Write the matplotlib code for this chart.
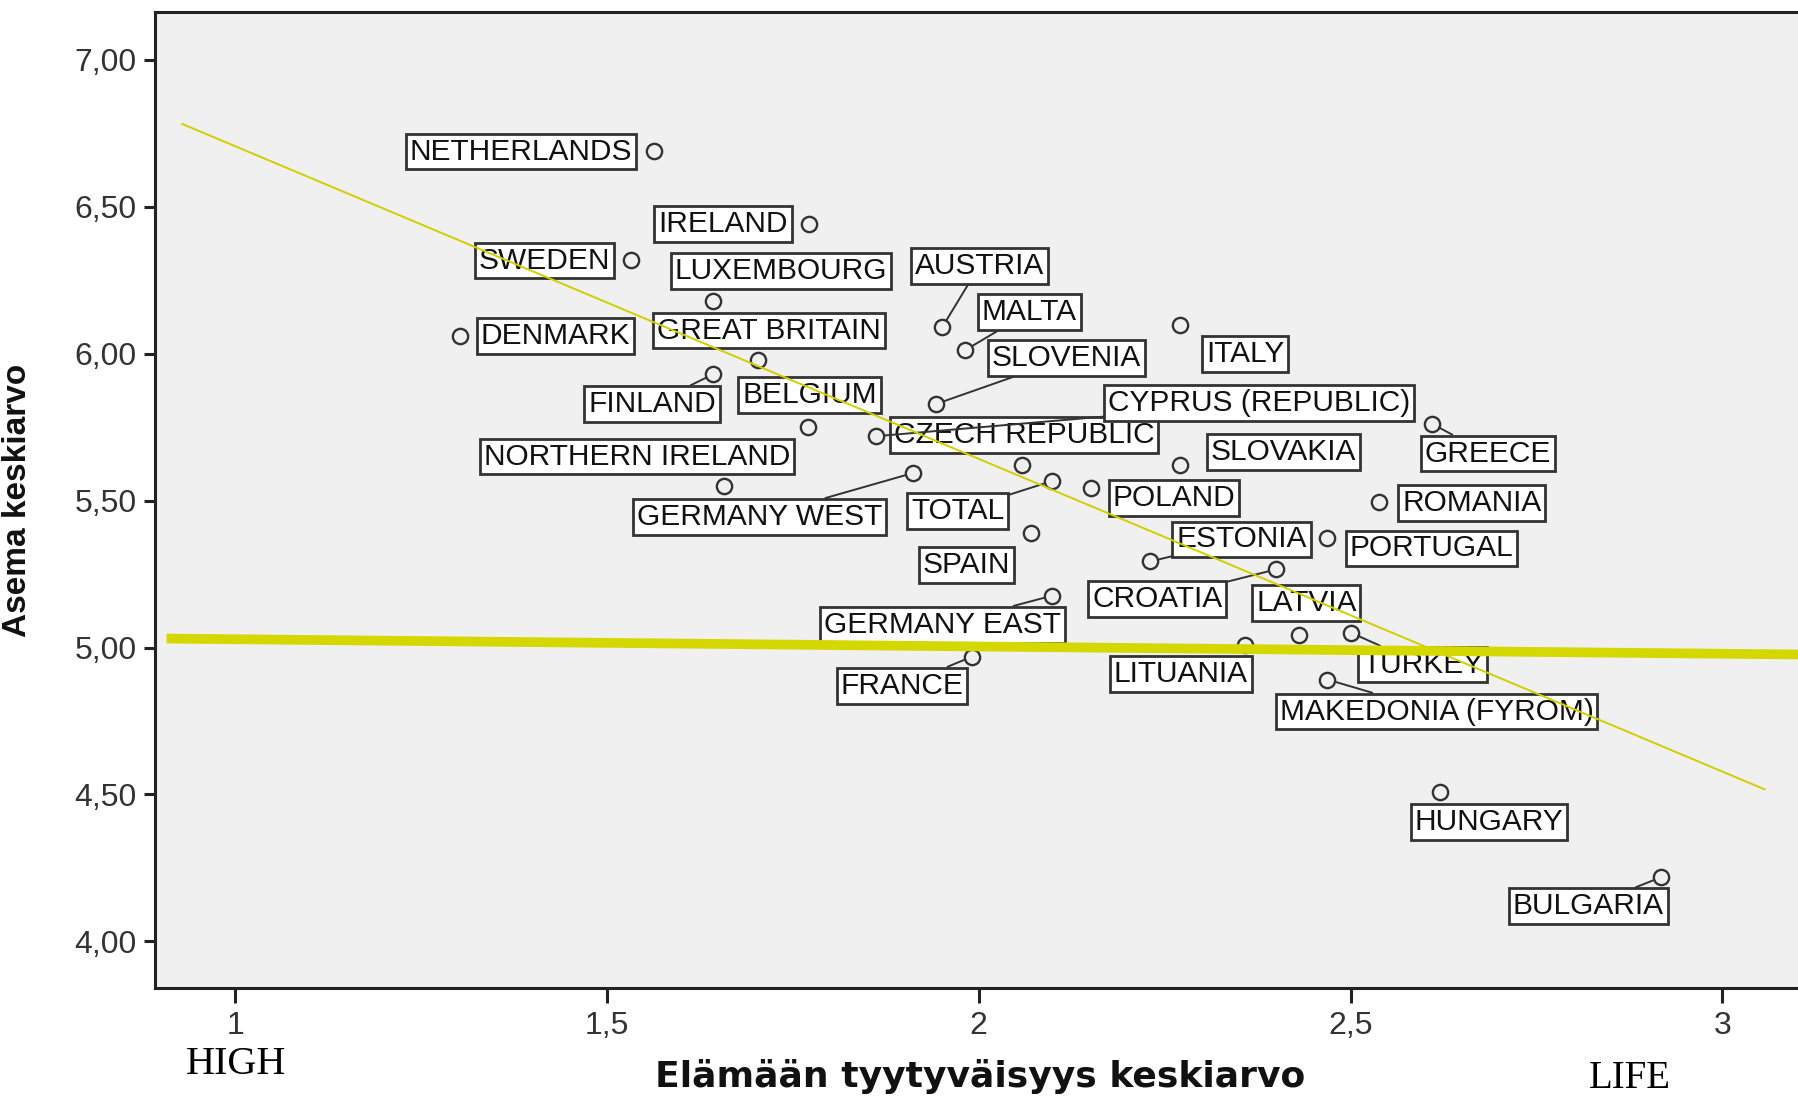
import numpy as np
import matplotlib
matplotlib.use("Agg")
import matplotlib.pyplot as plt

# ---------------------------------------------------------------------------
# data
countries = [
    "NETHERLANDS", "IRELAND", "SWEDEN", "LUXEMBOURG", "AUSTRIA", "MALTA",
    "DENMARK", "GREAT BRITAIN", "ITALY", "SLOVENIA", "FINLAND", "BELGIUM",
    "CZECH REPUBLIC", "CYPRUS (REPUBLIC)", "NORTHERN IRELAND", "GERMANY WEST",
    "TOTAL", "SPAIN", "GREECE", "SLOVAKIA", "POLAND", "ROMANIA", "PORTUGAL",
    "ESTONIA", "CROATIA", "LATVIA", "GERMANY EAST", "LITUANIA", "TURKEY",
    "FRANCE", "MAKEDONIA (FYROM)", "HUNGARY", "BULGARIA",
]
life_sat = [
    1.563, 1.772, 1.532, 1.643, 1.951, 1.982,
    1.302, 1.703, 2.271, 1.942, 1.643, 1.771,
    2.058, 1.862, 1.658, 1.912,
    2.098, 2.071, 2.609, 2.271, 2.151, 2.538, 2.469,
    2.231, 2.400, 2.431, 2.098, 2.358, 2.500,
    1.991, 2.469, 2.620, 2.918,
]
status = [
    6.691, 6.441, 6.320, 6.180, 6.090, 6.012,
    6.059, 5.980, 6.098, 5.828, 5.930, 5.750,
    5.621, 5.719, 5.551, 5.594,
    5.566, 5.391, 5.762, 5.621, 5.543, 5.496, 5.371,
    5.293, 5.266, 5.043, 5.176, 5.008, 5.051,
    4.969, 4.891, 4.508, 4.219,
]
# fit lines (slope, intercept)
fit_total = (-1.064, 7.770)
fit_flat = (-0.0247, 5.053)
fit_total_range = (0.929, 3.057)

# ---------------------------------------------------------------------------
# label placement (offset of the label box from its point, pixels)
label_offset = {
    "NETHERLANDS": (-133, -1), "IRELAND": (-86, 0), "SWEDEN": (-86, -1),
    "LUXEMBOURG": (68, 30), "AUSTRIA": (37, 61), "MALTA": (64, 38),
    "DENMARK": (96, 0), "GREAT BRITAIN": (11, 29), "ITALY": (65, -29),
    "SLOVENIA": (131, 46), "FINLAND": (-61, -30), "BELGIUM": (1, 32),
    "CZECH REPUBLIC": (2, 30), "CYPRUS (REPUBLIC)": (383, 33),
    "NORTHERN IRELAND": (-87, 29), "GERMANY WEST": (-154, -44),
    "TOTAL": (-94, -30), "SPAIN": (-65, -32), "GREECE": (56, -30),
    "SLOVAKIA": (103, 13), "POLAND": (83, -10), "ROMANIA": (93, -1),
    "PORTUGAL": (104, -10), "ESTONIA": (91, 22), "CROATIA": (-119, -30),
    "LATVIA": (7, 32), "GERMANY EAST": (-109, -29), "LITUANIA": (-64, -29),
    "TURKEY": (72, -32), "FRANCE": (-70, -29), "MAKEDONIA (FYROM)": (109, -32),
    "HUNGARY": (49, -30), "BULGARIA": (-73, -29),
}
with_leader = {
    "AUSTRIA", "MALTA", "SLOVENIA", "FINLAND", "CYPRUS (REPUBLIC)",
    "GERMANY WEST", "TOTAL", "GREECE", "ESTONIA", "CROATIA", "GERMANY EAST",
    "TURKEY", "FRANCE", "MAKEDONIA (FYROM)", "BULGARIA",
}

plt.rcParams["font.family"] = ["Liberation Sans", "DejaVu Sans"]

fig = plt.figure(figsize=(17.98, 10.96), dpi=100)
ax = fig.add_axes([0.0862, 0.0981, 0.9138, 0.8914])
ax.set_facecolor("#f0f0f0")

ax.set_xlim(0.8924, 3.1017)
ax.set_ylim(3.840, 7.164)

# markers
ax.plot(life_sat, status, "o", ms=11, mfc="none", mec="#333333", mew=1.7,
        zorder=4)

# labels
for name, x, y in zip(countries, life_sat, status):
    dx, dy = label_offset[name]
    arrow = None
    if name in with_leader:
        arrow = dict(arrowstyle="-", color="#333333", lw=1.4,
                     shrinkA=0, shrinkB=6)
    ax.annotate(name, xy=(x, y), xytext=(dx, dy), textcoords="offset pixels",
                ha="center", va="center", fontsize=21.5, color="#111111",
                bbox=dict(boxstyle="square,pad=0.13", fc="white",
                          ec="#333333", lw=2),
                arrowprops=arrow, zorder=3)

# fit lines
xs = np.linspace(*fit_total_range, 2)
ax.plot(xs, fit_total[0] * xs + fit_total[1], color="#d0d000", lw=1.4,
        zorder=6)
xf = np.linspace(0.908, 3.1017, 2)
ax.plot(xf, fit_flat[0] * xf + fit_flat[1], color="#d4d800", lw=7,
        solid_capstyle="butt", zorder=6)

# axes styling
for side in ("left", "bottom", "top"):
    ax.spines[side].set_linewidth(2.2)
    ax.spines[side].set_color("#222222")
ax.spines["right"].set_visible(False)

yt = np.arange(4.0, 7.01, 0.5)
ax.set_yticks(yt)
ax.set_yticklabels([f"{v:.2f}".replace(".", ",") for v in yt])
xt = [1, 1.5, 2, 2.5, 3]
ax.set_xticks(xt)
ax.set_xticklabels(["1", "1,5", "2", "2,5", "3"])
ax.tick_params(axis="y", length=8, width=2.2, pad=5, labelsize=23,
               colors="#222222", labelcolor="#333333")
ax.tick_params(axis="x", length=11, width=2.2, pad=5, labelsize=23,
               colors="#222222", labelcolor="#333333")

ax.set_ylabel("Asema keskiarvo", fontsize=24, fontweight="bold",
              color="#111111")
ax.yaxis.set_label_coords(-0.074, 0.5)

fig.text(980 / 1798, 1 - 1076 / 1096, "Elämään tyytyväisyys keskiarvo",
         family="DejaVu Sans", fontweight="bold", fontsize=26,
         ha="center", va="center", color="#111111")
fig.text(236 / 1798, 1 - 1064 / 1096, "HIGH", family="Liberation Serif",
         fontsize=29, ha="center", va="center")
fig.text(1630 / 1798, 1 - 1078 / 1096, "LIFE", family="Liberation Serif",
         fontsize=28, ha="center", va="center")

fig.savefig("out.png", dpi=100)
